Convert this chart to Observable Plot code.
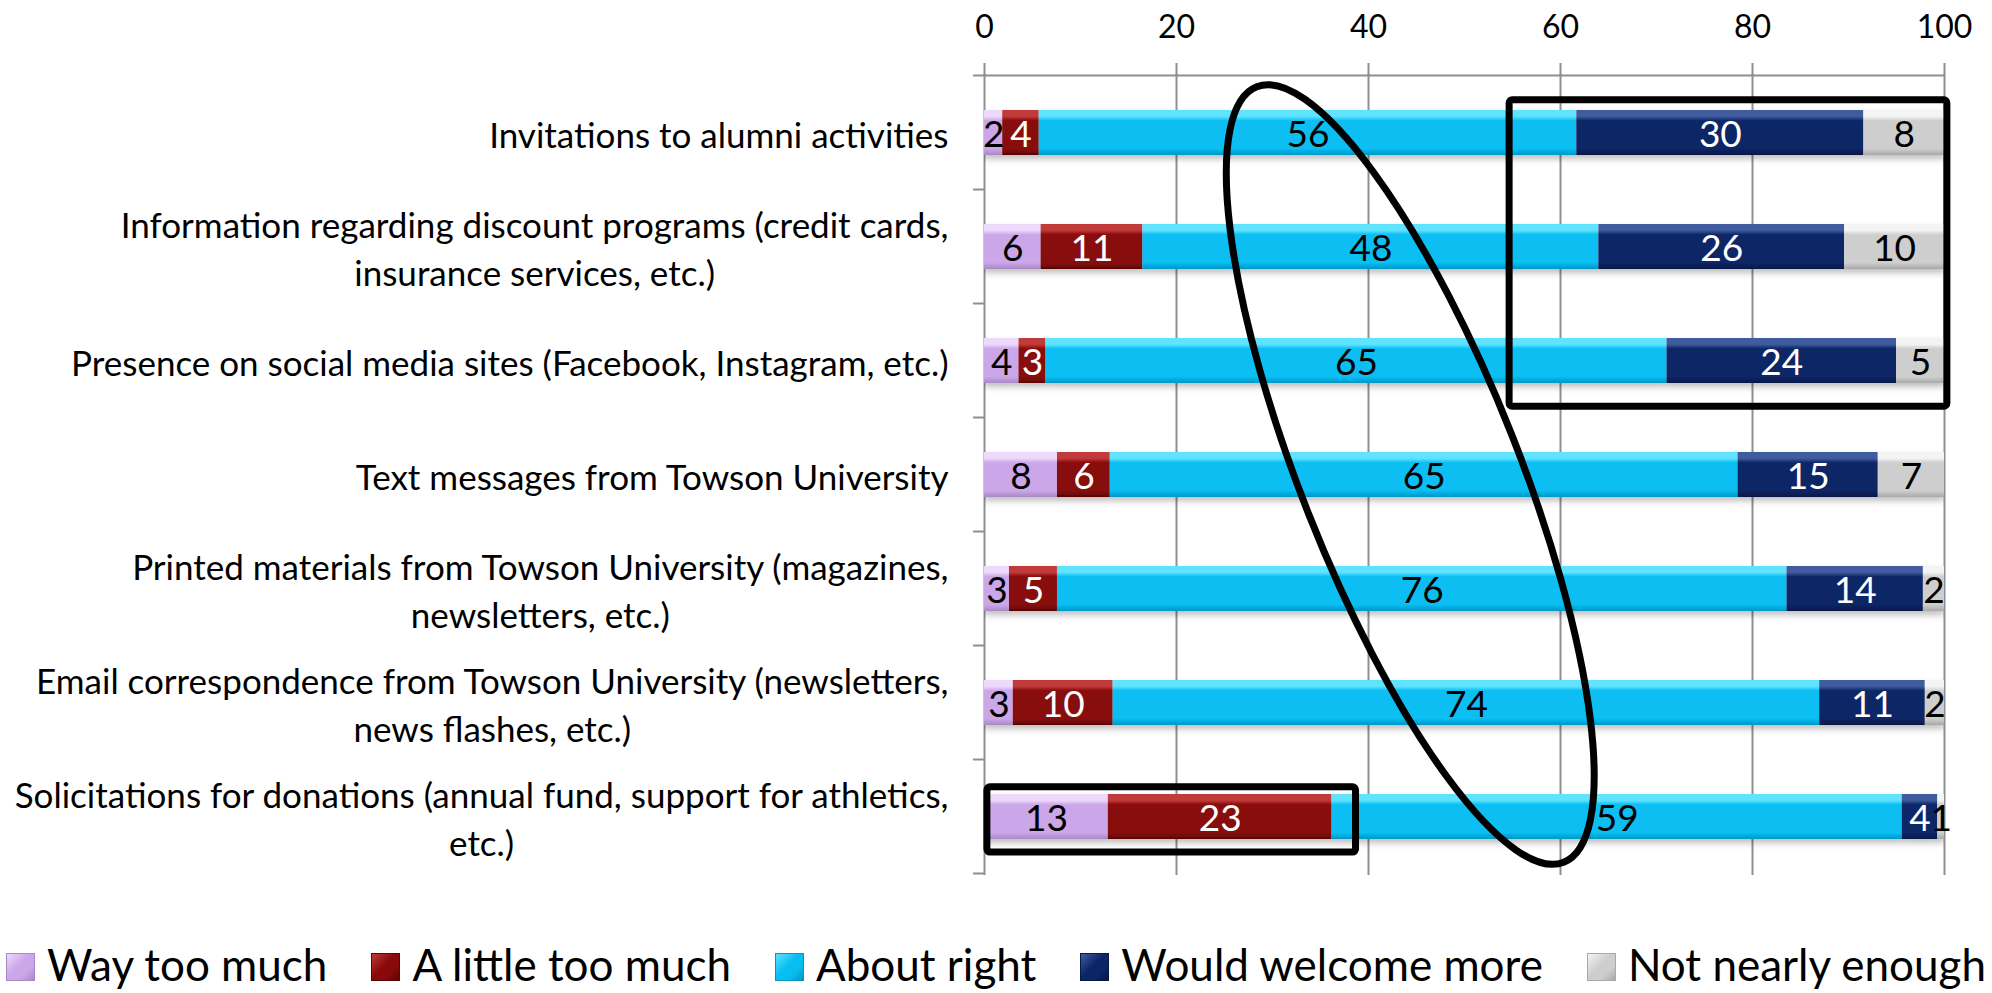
<!DOCTYPE html>
<html><head><meta charset="utf-8">
<script src="https://cdn.jsdelivr.net/npm/d3@7"></script>
<script src="https://cdn.jsdelivr.net/npm/@observablehq/plot@0.6"></script>
<style>
html,body{margin:0;padding:0;background:#fff;}
#chart{position:relative;width:1992px;height:993px;font-family:Lato,sans-serif;}
#legend{position:absolute;left:0;top:938px;width:1992px;height:53px;display:flex;justify-content:center;align-items:center;font-size:44px;line-height:53px;color:#000;white-space:nowrap;}
.item{display:flex;align-items:center;margin:0 22px;height:53px;}
.sw{width:29px;height:28px;margin-right:12px;box-sizing:border-box;margin-top:4px;}
</style></head><body><div id="chart"></div>
<script>
// ---------- data ----------
const categories = [
  "Invitations to alumni activities",
  "Information regarding discount programs (credit cards,\ninsurance services, etc.)",
  "Presence on social media sites (Facebook, Instagram, etc.)",
  "Text messages from Towson University",
  "Printed materials from Towson University (magazines,\nnewsletters, etc.)",
  "Email correspondence from Towson University (newsletters,\nnews flashes, etc.)",
  "Solicitations for donations (annual fund, support for athletics,\netc.)"
];
const series = ["Way too much", "A little too much", "About right", "Would welcome more", "Not nearly enough"];
const wayTooMuch    = [1.9, 5.9, 3.6, 7.6, 2.6, 3.0, 12.9];
const littleTooMuch = [3.8, 10.6, 2.8, 5.5, 5.0, 10.4, 23.3];
const aboutRight    = [56.0, 47.5, 64.7, 65.4, 76.0, 73.6, 59.4];
const welcomeMore   = [29.9, 25.6, 23.9, 14.6, 14.2, 11.0, 3.7];
const notEnough     = [8.4, 10.4, 5.0, 6.9, 2.2, 2.0, 0.7];
const xTicks = [0, 20, 40, 60, 80, 100];

// ---------- styles ----------
const colors = ["#cba6e8", "#880a0a", "#07bef2", "#0c2566", "#cecece"];
const lightTop = ["#ecd9fb", "#c23a3a", "#5fe3ff", "#3f5c9e", "#f4f4f4"];
const darkBottom = ["#a989c4", "#5c0505", "#0396c4", "#061845", "#a8a8a8"];
const whiteLabelSeries = new Set(["A little too much", "Would welcome more"]);

// annotation shapes (data-anchored)
const boxes = [
  {x1: 54.7, x2: 100.3, from: categories[0], to: categories[2], padTop: -0.2875, padBottom: 0.401},
  {x1: 0.3, x2: 38.7, from: categories[6], to: categories[6], padTop: -0.26, padBottom: 0.312}
];
const ellipseSpec = {x: 44.4, cat: categories[3], rx: 109, ry: 417, angle: -21.6};

const valuesBySeries = [wayTooMuch, littleTooMuch, aboutRight, welcomeMore, notEnough];
const table = [];
categories.forEach((cat, i) => series.forEach((s, j) => table.push({cat, series: s, value: valuesBySeries[j][i]})));

const ns = "http://www.w3.org/2000/svg";
function el(name, attrs) { const e = document.createElementNS(ns, name); for (const k in attrs) e.setAttribute(k, attrs[k]); return e; }

function axisLines(index, scales) {
  const {x, y} = scales;
  const step = y.step(), bw = y.bandwidth();
  const g = el("g", {stroke: "#8f8f8f", "stroke-width": 2, fill: "none"});
  const top = y(categories[0]) - (step - bw) / 2;
  const x0 = x(xTicks[0]), x1 = x(xTicks[xTicks.length - 1]);
  g.appendChild(el("line", {x1: x0, x2: x1, y1: top, y2: top}));
  for (let i = 0; i <= categories.length; i++) {
    const yy = top + i * step;
    g.appendChild(el("line", {x1: x0 - 11, x2: x0, y1: yy, y2: yy}));
  }
  return g;
}

function annotate(index, scales) {
  const {x, y} = scales;
  const step = y.step(), bw = y.bandwidth();
  const yc = c => y(c) + bw / 2;
  const g = el("g", {stroke: "#000", "stroke-width": 7, fill: "none", "stroke-linejoin": "round"});
  for (const b of boxes) {
    const X1 = x(b.x1), X2 = x(b.x2), Y1 = yc(b.from) + b.padTop * step, Y2 = yc(b.to) + b.padBottom * step;
    g.appendChild(el("rect", {x: X1, y: Y1, width: X2 - X1, height: Y2 - Y1, rx: 3}));
  }
  const cx = x(ellipseSpec.x), cy = yc(ellipseSpec.cat);
  g.appendChild(el("ellipse", {cx: 0, cy: 0, rx: ellipseSpec.rx, ry: ellipseSpec.ry,
    transform: `translate(${cx},${cy}) rotate(${ellipseSpec.angle})`}));
  return g;
}

const chart = Plot.plot({
  width: 1992, height: 900,
  marginLeft: 984, marginRight: 48, marginTop: 74, marginBottom: 25,
  style: {fontFamily: "Lato, sans-serif", background: "white", color: "black", overflow: "visible"},
  x: {domain: [0, 100]},
  y: {domain: categories, paddingInner: 0.607, paddingOuter: 0.3035},
  color: {domain: series, range: colors},
  marks: [
    Plot.ruleX(xTicks, {stroke: "#8f8f8f", strokeWidth: 2}),
    axisLines,
    Plot.axisX({anchor: "top", ticks: xTicks, tickSize: 12, tickPadding: 25, fontSize: 32,
      stroke: "#8f8f8f", strokeWidth: 2, label: null, tickFormat: d => String(d)}),
    Plot.axisY({anchor: "left", tickSize: 0, tickPadding: 36, fontSize: 35, lineHeight: 1.37, label: null}),
    Plot.barX(table, {y: "cat", x: "value", fill: "series", clip: true}),
    Plot.text(table, Plot.stackX({y: "cat", x: "value", z: "series",
      text: d => whiteLabelSeries.has(d.series) ? null : String(Math.round(d.value)),
      fill: "black", fontSize: 37, dy: 2})),
    Plot.text(table, Plot.stackX({y: "cat", x: "value", z: "series",
      text: d => whiteLabelSeries.has(d.series) ? String(Math.round(d.value)) : null,
      fill: "white", fontSize: 37, dy: 2})),
    annotate
  ]
});

const root = document.getElementById("chart");
root.appendChild(chart);

// gradients / bevel look
const defs = el("defs", {});
colors.forEach((c, i) => {
  const lg = el("linearGradient", {id: "g" + i, x1: 0, y1: 0, x2: 0, y2: 1});
  [[0, lightTop[i]], [0.14, lightTop[i]], [0.24, c], [0.86, c], [1, darkBottom[i]]].forEach(([o, col]) =>
    lg.appendChild(el("stop", {offset: o, "stop-color": col})));
  defs.appendChild(lg);
});
const flt = el("filter", {id: "shadow", x: "-5%", y: "-20%", width: "110%", height: "160%"});
flt.appendChild(el("feDropShadow", {dx: 0, dy: 4, stdDeviation: 3, "flood-color": "#000", "flood-opacity": 0.25}));
defs.appendChild(flt);
chart.insertBefore(defs, chart.firstChild);
const colorIndex = new Map(colors.map((c, i) => [c, i]));
const barG = chart.querySelector('g[aria-label="bar"]');
if (barG) {
  barG.setAttribute("filter", "url(#shadow)");
  barG.querySelectorAll("rect").forEach(r => {
    const f = (r.getAttribute("fill") || "").toLowerCase();
    if (colorIndex.has(f)) r.setAttribute("fill", `url(#g${colorIndex.get(f)})`);
  });
}

// center wrapped lines of category labels (Excel-style)
chart.querySelectorAll("text").forEach(t => {
  const spans = t.querySelectorAll("tspan");
  if (spans.length < 2) return;
  const w = Math.max(...Array.from(spans, s => s.getComputedTextLength()));
  t.setAttribute("text-anchor", "middle");
  spans.forEach(s => s.setAttribute("x", -w / 2));
});

// legend
const legend = document.createElement("div");
legend.id = "legend";
series.forEach((s, i) => {
  const item = document.createElement("div");
  item.className = "item";
  const sw = document.createElement("div");
  sw.className = "sw";
  sw.style.background = `linear-gradient(135deg, ${lightTop[i]} 0%, ${colors[i]} 45%, ${colors[i]} 70%, ${darkBottom[i]} 100%)`;
  sw.style.border = `1px solid ${darkBottom[i]}`;
  const lab = document.createElement("span");
  lab.textContent = s;
  item.appendChild(sw); item.appendChild(lab);
  legend.appendChild(item);
});
root.appendChild(legend);
</script></body></html>
